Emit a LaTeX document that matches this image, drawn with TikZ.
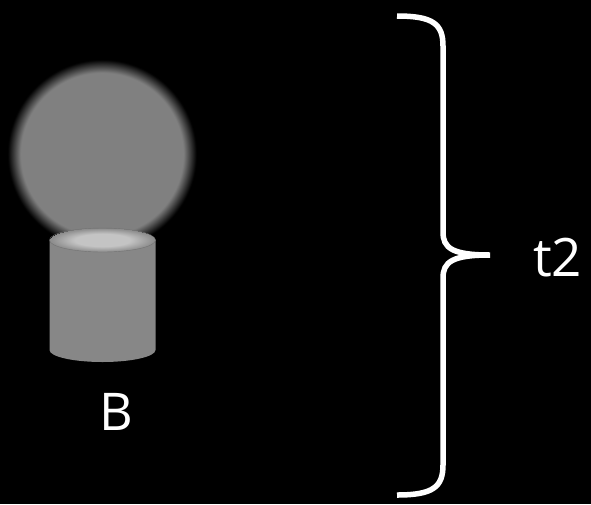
\documentclass[tikz,border=0pt]{standalone}
\usepackage{fontspec}
\setmainfont{Open Sans}
\definecolor{glowgray}{gray}{0.5}
\definecolor{bodygray}{gray}{0.53}
\definecolor{rimgray}{gray}{0.45}
\definecolor{toplight}{gray}{0.77}
\definecolor{topdark}{gray}{0.56}
\pgfdeclareradialshading{glowshade}{\pgfpoint{0bp}{0bp}}{color(0bp)=(glowgray); color(21.2bp)=(glowgray); color(24.6bp)=(black); color(25bp)=(black)}
\pgfdeclareradialshading{topshade}{\pgfpoint{0bp}{0bp}}{color(0bp)=(toplight); color(13bp)=(toplight); color(24bp)=(topdark); color(25bp)=(topdark)}
\tikzset{
  bracestyle/.style={draw=white, line width=5.5pt},
  labelstyle/.style={text=white, inner sep=0pt, anchor=base}
}
\begin{document}
\begin{tikzpicture}[x=1pt,y=-1pt]
\fill[black] (0,0) rectangle (591,504);
\useasboundingbox (0,0) rectangle (591,504);
% glow
\shade[shading=glowshade] (102,154) circle (96);
% cylinder body
\fill[bodygray] (49.5,240) -- (49.5,350) arc[start angle=180, end angle=0, x radius=53, y radius=12] -- (155.5,240) -- cycle;
% cylinder top
\shade[shading=topshade, draw=rimgray, line width=0.4pt] (102.5,240) ellipse [x radius=53, y radius=12];
% labels
\node[labelstyle, font=\fontsize{52}{60}\selectfont] (B) at (116,430) {B};
\node[labelstyle, anchor=base west, font=\fontsize{53}{62}\selectfont] (t2) at (533,276) {t2};
% brace
\coordinate (btop) at (397,16);
\coordinate (bbot) at (397,495);
\coordinate (btip) at (490,255);
\draw[bracestyle] (btop) .. controls (433,16) and (443,24) .. (443,46)
  -- (443,232) .. controls (443,248) and (452,255) .. (btip)
  (btip) .. controls (452,255) and (443,262) .. (443,278)
  -- (443,465) .. controls (443,487) and (433,495) .. (bbot);
\end{tikzpicture}
\end{document}
